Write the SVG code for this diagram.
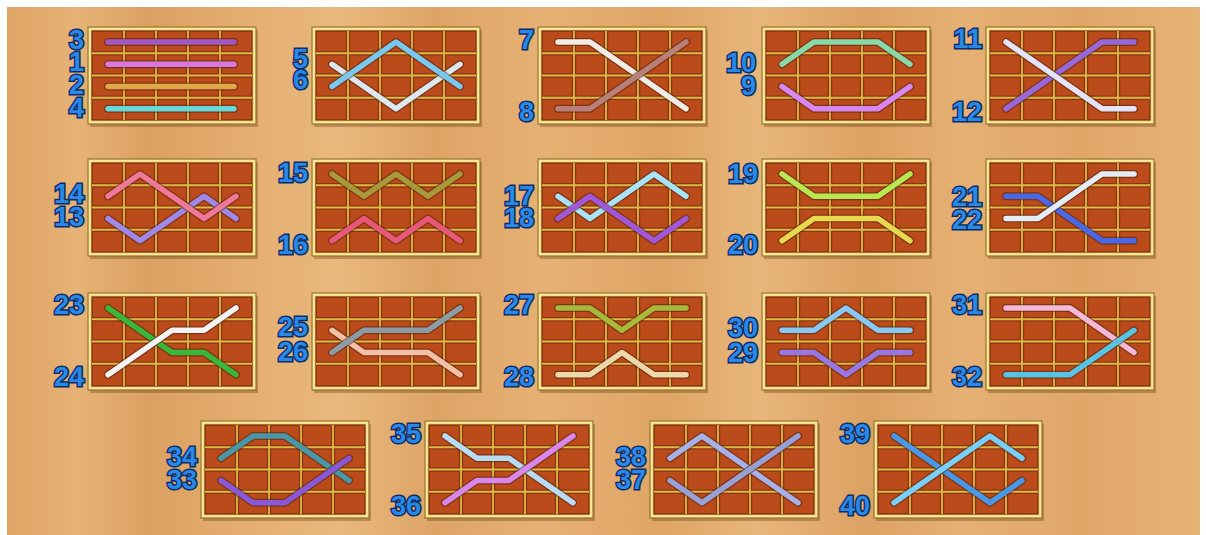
<svg xmlns="http://www.w3.org/2000/svg" xmlns:xlink="http://www.w3.org/1999/xlink" width="1206" height="535" viewBox="0 0 1206 535">
<style>
.sh{fill:none;stroke:#3a1608;stroke-opacity:.45;stroke-width:8;stroke-linecap:round;stroke-linejoin:round}
.ln{fill:none;stroke-width:5.5;stroke-linecap:round;stroke-linejoin:round}
.lb{font-family:"Liberation Sans",Arial,sans-serif;font-weight:bold;font-size:27px;fill:#2a88e6;stroke:#0d2d66;stroke-width:3;paint-order:stroke;text-anchor:end}
</style>
<defs>
<linearGradient id="wood" x1="0" y1="0" x2="1" y2="0">
<stop offset="0" stop-color="#dea464"/>
<stop offset=".06" stop-color="#e6b276"/>
<stop offset=".12" stop-color="#dba062"/>
<stop offset=".2" stop-color="#e4ae70"/>
<stop offset=".28" stop-color="#e9b87c"/>
<stop offset=".36" stop-color="#dda466"/>
<stop offset=".45" stop-color="#e6b174"/>
<stop offset=".55" stop-color="#dea565"/>
<stop offset=".63" stop-color="#e8b67a"/>
<stop offset=".72" stop-color="#dca263"/>
<stop offset=".8" stop-color="#e5b073"/>
<stop offset=".9" stop-color="#dfa668"/>
<stop offset="1" stop-color="#e6b375"/>
</linearGradient>
<g id="panel">
<rect x="2" y="3" width="168" height="97" fill="#6a3a14" opacity="0.35"/>
<rect x="0" y="0" width="168" height="97" fill="#efd67a" stroke="#8a6a2a" stroke-width="1"/>
<rect x="1.8" y="1.8" width="164.4" height="93.4" fill="none" stroke="#fff0a8" stroke-width="1"/>
<rect x="4" y="4" width="160" height="89" fill="#bb4b1b" stroke="#6e2a10" stroke-width="1.2"/>
<path d="M36 4V93M68 4V93M100 4V93M132 4V93M4 26.25H164M4 48.5H164M4 70.75H164" stroke="#8c3412" stroke-width="4.5" fill="none"/>
<path d="M36 4V93M68 4V93M100 4V93M132 4V93M4 26.25H164M4 48.5H164M4 70.75H164" stroke="#dcba44" stroke-width="1.8" fill="none"/>
</g>
</defs>
<rect width="1206" height="535" fill="#ffffff"/>
<rect x="7" y="7" width="1193" height="528" fill="url(#wood)"/>

<g id="p1" transform="translate(88,27)">
<use href="#panel"/>
<polyline class="sh" points="20,15 146,15"/><polyline class="ln" stroke="#a456c4" points="20,15 146,15"/>
<polyline class="sh" points="20,37.3 146,37.3"/><polyline class="ln" stroke="#d878e0" points="20,37.3 146,37.3"/>
<polyline class="sh" points="20,59.5 146,59.5"/><polyline class="ln" stroke="#e0a848" points="20,59.5 146,59.5"/>
<polyline class="sh" points="20,81.8 146,81.8"/><polyline class="ln" stroke="#68d8d8" points="20,81.8 146,81.8"/>
<text class="lb" x="-4" y="21.8">3</text>
<text class="lb" x="-4" y="44.3">1</text>
<text class="lb" x="-4" y="67.3">2</text>
<text class="lb" x="-4" y="90.3">4</text>
</g>

<g id="p2" transform="translate(312,27)">
<use href="#panel"/>
<polyline class="sh" points="20,37.3 52,59.5 84,81.8 116,59.5 148,37.3"/><polyline class="ln" stroke="#dce8f0" points="20,37.3 52,59.5 84,81.8 116,59.5 148,37.3"/>
<polyline class="sh" points="20,59.5 52,37.3 84,15 116,37.3 148,59.5"/><polyline class="ln" stroke="#78c8f0" points="20,59.5 52,37.3 84,15 116,37.3 148,59.5"/>
<text class="lb" x="-4" y="40.5">5</text>
<text class="lb" x="-4" y="62">6</text>
</g>

<g id="p3" transform="translate(538,27)">
<use href="#panel"/>
<polyline class="sh" points="20,15 52,15 148,81.8"/><polyline class="ln" stroke="#f2ece6" points="20,15 52,15 148,81.8"/>
<polyline class="sh" points="20,81.8 52,81.8 148,15"/><polyline class="ln" stroke="#b88078" points="20,81.8 52,81.8 148,15"/>
<text class="lb" x="-4" y="21.5">7</text>
<text class="lb" x="-4" y="93.5">8</text>
</g>

<g id="p4" transform="translate(762,27)">
<use href="#panel"/>
<polyline class="sh" points="20,37.3 52,15 116,15 148,37.3"/><polyline class="ln" stroke="#88d8a8" points="20,37.3 52,15 116,15 148,37.3"/>
<polyline class="sh" points="20,59.5 52,81.8 116,81.8 148,59.5"/><polyline class="ln" stroke="#d888f0" points="20,59.5 52,81.8 116,81.8 148,59.5"/>
<text class="lb" x="-6" y="44.5">10</text>
<text class="lb" x="-6" y="67.5">9</text>
</g>

<g id="p5" transform="translate(986,27)">
<use href="#panel"/>
<polyline class="sh" points="20,81.8 116,15 148,15"/><polyline class="ln" stroke="#9868d8" points="20,81.8 116,15 148,15"/>
<polyline class="sh" points="20,15 116,81.8 148,81.8"/><polyline class="ln" stroke="#e4e4f8" points="20,15 116,81.8 148,81.8"/>
<text class="lb" x="-4" y="21">11</text>
<text class="lb" x="-4" y="93.5">12</text>
</g>

<g id="p6" transform="translate(88,159)">
<use href="#panel"/>
<polyline class="sh" points="20,59.5 52,81.8 116,37.3 148,59.5"/><polyline class="ln" stroke="#a088e8" points="20,59.5 52,81.8 116,37.3 148,59.5"/>
<polyline class="sh" points="20,37.3 52,15 116,59.5 148,37.3"/><polyline class="ln" stroke="#f07898" points="20,37.3 52,15 116,59.5 148,37.3"/>
<text class="lb" x="-4" y="43.5">14</text>
<text class="lb" x="-4" y="67">13</text>
</g>

<g id="p7" transform="translate(312,159)">
<use href="#panel"/>
<polyline class="sh" points="20,15 52,37.3 84,15 116,37.3 148,15"/><polyline class="ln" stroke="#a89838" points="20,15 52,37.3 84,15 116,37.3 148,15"/>
<polyline class="sh" points="20,81.8 52,59.5 84,81.8 116,59.5 148,81.8"/><polyline class="ln" stroke="#e85878" points="20,81.8 52,59.5 84,81.8 116,59.5 148,81.8"/>
<text class="lb" x="-4" y="22.5">15</text>
<text class="lb" x="-4" y="94.5">16</text>
</g>

<g id="p8" transform="translate(538,159)">
<use href="#panel"/>
<polyline class="sh" points="20,37.3 52,59.5 116,15 148,37.3"/><polyline class="ln" stroke="#a8e4f8" points="20,37.3 52,59.5 116,15 148,37.3"/>
<polyline class="sh" points="20,59.5 52,37.3 116,81.8 148,59.5"/><polyline class="ln" stroke="#a058d8" points="20,59.5 52,37.3 116,81.8 148,59.5"/>
<text class="lb" x="-4" y="45.5">17</text>
<text class="lb" x="-4" y="67.5">18</text>
</g>

<g id="p9" transform="translate(762,159)">
<use href="#panel"/>
<polyline class="sh" points="20,15 52,37.3 116,37.3 148,15"/><polyline class="ln" stroke="#b8e850" points="20,15 52,37.3 116,37.3 148,15"/>
<polyline class="sh" points="20,81.8 52,59.5 116,59.5 148,81.8"/><polyline class="ln" stroke="#e8d850" points="20,81.8 52,59.5 116,59.5 148,81.8"/>
<text class="lb" x="-4" y="23.5">19</text>
<text class="lb" x="-4" y="94.5">20</text>
</g>

<g id="p10" transform="translate(986,159)">
<use href="#panel"/>
<polyline class="sh" points="20,37.3 52,37.3 116,81.8 148,81.8"/><polyline class="ln" stroke="#4868e8" points="20,37.3 52,37.3 116,81.8 148,81.8"/>
<polyline class="sh" points="20,59.5 52,59.5 116,15 148,15"/><polyline class="ln" stroke="#e4ecf8" points="20,59.5 52,59.5 116,15 148,15"/>
<text class="lb" x="-4" y="46.5">21</text>
<text class="lb" x="-4" y="69.5">22</text>
</g>

<g id="p11" transform="translate(88,293)">
<use href="#panel"/>
<polyline class="sh" points="20,15 84,59.5 116,59.5 148,81.8"/><polyline class="ln" stroke="#38b838" points="20,15 84,59.5 116,59.5 148,81.8"/>
<polyline class="sh" points="20,81.8 84,37.3 116,37.3 148,15"/><polyline class="ln" stroke="#f4f4f4" points="20,81.8 84,37.3 116,37.3 148,15"/>
<text class="lb" x="-4" y="21">23</text>
<text class="lb" x="-4" y="93">24</text>
</g>

<g id="p12" transform="translate(312,293)">
<use href="#panel"/>
<polyline class="sh" points="20,37.3 52,59.5 116,59.5 148,81.8"/><polyline class="ln" stroke="#f4c0a8" points="20,37.3 52,59.5 116,59.5 148,81.8"/>
<polyline class="sh" points="20,59.5 52,37.3 116,37.3 148,15"/><polyline class="ln" stroke="#8c9ca4" points="20,59.5 52,37.3 116,37.3 148,15"/>
<text class="lb" x="-4" y="43">25</text>
<text class="lb" x="-4" y="67.5">26</text>
</g>

<g id="p13" transform="translate(538,293)">
<use href="#panel"/>
<polyline class="sh" points="20,15 52,15 84,37.3 116,15 148,15"/><polyline class="ln" stroke="#a8b838" points="20,15 52,15 84,37.3 116,15 148,15"/>
<polyline class="sh" points="20,81.8 52,81.8 84,59.5 116,81.8 148,81.8"/><polyline class="ln" stroke="#ecd8a8" points="20,81.8 52,81.8 84,59.5 116,81.8 148,81.8"/>
<text class="lb" x="-4" y="21">27</text>
<text class="lb" x="-4" y="93">28</text>
</g>

<g id="p14" transform="translate(762,293)">
<use href="#panel"/>
<polyline class="sh" points="20,37.3 52,37.3 84,15 116,37.3 148,37.3"/><polyline class="ln" stroke="#88c8f4" points="20,37.3 52,37.3 84,15 116,37.3 148,37.3"/>
<polyline class="sh" points="20,59.5 52,59.5 84,81.8 116,59.5 148,59.5"/><polyline class="ln" stroke="#9878e0" points="20,59.5 52,59.5 84,81.8 116,59.5 148,59.5"/>
<text class="lb" x="-4" y="44">30</text>
<text class="lb" x="-4" y="68.5">29</text>
</g>

<g id="p15" transform="translate(986,293)">
<use href="#panel"/>
<polyline class="sh" points="20,15 84,15 148,59.5"/><polyline class="ln" stroke="#f4b8d8" points="20,15 84,15 148,59.5"/>
<polyline class="sh" points="20,81.8 84,81.8 148,37.3"/><polyline class="ln" stroke="#58c4e4" points="20,81.8 84,81.8 148,37.3"/>
<text class="lb" x="-4" y="21">31</text>
<text class="lb" x="-4" y="93">32</text>
</g>

<g id="p16" transform="translate(201,421)">
<use href="#panel"/>
<polyline class="sh" points="20,37.3 52,15 84,15 148,59.5"/><polyline class="ln" stroke="#4898a8" points="20,37.3 52,15 84,15 148,59.5"/>
<polyline class="sh" points="20,59.5 52,81.8 84,81.8 148,37.3"/><polyline class="ln" stroke="#8858d8" points="20,59.5 52,81.8 84,81.8 148,37.3"/>
<text class="lb" x="-4" y="44.5">34</text>
<text class="lb" x="-4" y="67.5">33</text>
</g>

<g id="p17" transform="translate(425,421)">
<use href="#panel"/>
<polyline class="sh" points="20,15 52,37.3 84,37.3 148,81.8"/><polyline class="ln" stroke="#b8dcf4" points="20,15 52,37.3 84,37.3 148,81.8"/>
<polyline class="sh" points="20,81.8 52,59.5 84,59.5 148,15"/><polyline class="ln" stroke="#d888ec" points="20,81.8 52,59.5 84,59.5 148,15"/>
<text class="lb" x="-4" y="22">35</text>
<text class="lb" x="-4" y="93.5">36</text>
</g>

<g id="p18" transform="translate(650,421)">
<use href="#panel"/>
<polyline class="sh" points="20,37.3 52,15 148,81.8"/><polyline class="ln" stroke="#a8b0e8" points="20,37.3 52,15 148,81.8"/>
<polyline class="sh" points="20,59.5 52,81.8 148,15"/><polyline class="ln" stroke="#98a0d8" points="20,59.5 52,81.8 148,15"/>
<text class="lb" x="-4" y="44.5">38</text>
<text class="lb" x="-4" y="67.5">37</text>
</g>

<g id="p19" transform="translate(874,421)">
<use href="#panel"/>
<polyline class="sh" points="20,15 116,81.8 148,59.5"/><polyline class="ln" stroke="#4898e8" points="20,15 116,81.8 148,59.5"/>
<polyline class="sh" points="20,81.8 116,15 148,37.3"/><polyline class="ln" stroke="#78d0f8" points="20,81.8 116,15 148,37.3"/>
<text class="lb" x="-4" y="21.5">39</text>
<text class="lb" x="-4" y="93.5">40</text>
</g>
</svg>
